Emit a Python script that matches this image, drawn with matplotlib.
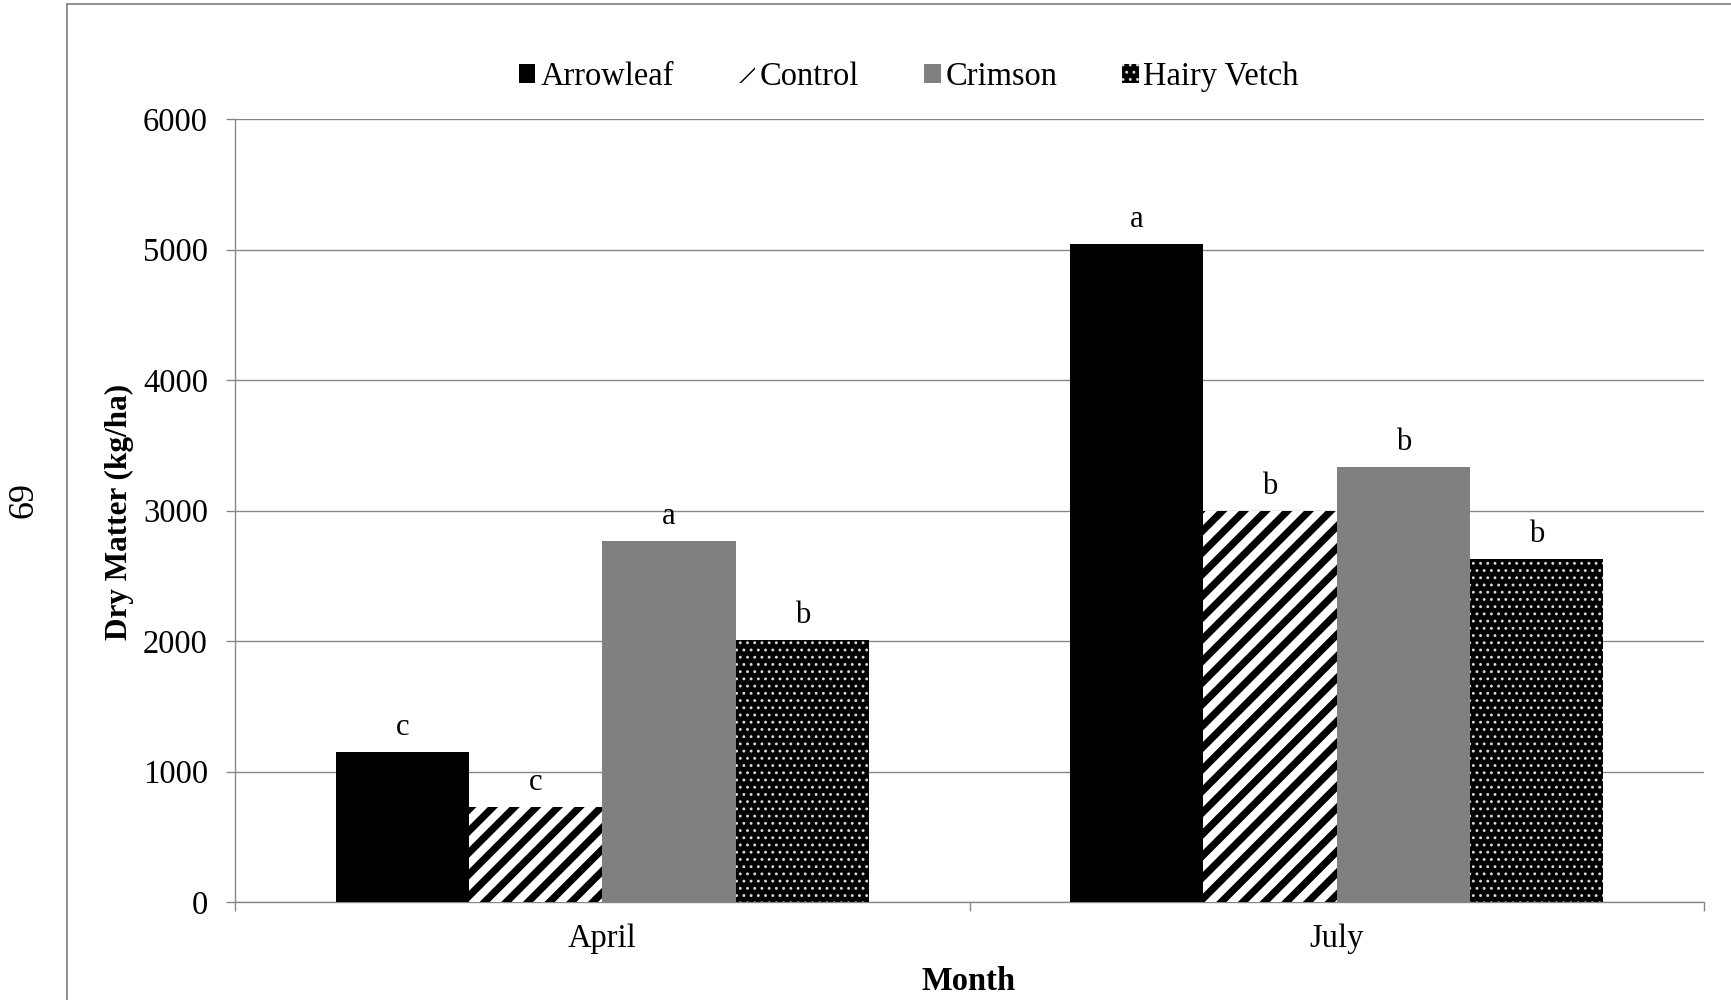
import matplotlib
matplotlib.use("Agg")
import matplotlib.pyplot as plt
from matplotlib.lines import Line2D
import numpy as np

# ---- data ----
months = ["April", "July"]
series = ["Arrowleaf", "Control", "Crimson", "Hairy Vetch"]
arrowleaf = [1150, 5045]
control = [730, 2995]
crimson = [2770, 3335]
hairy_vetch = [2010, 2630]
letters_arrowleaf = ["c", "a"]
letters_control = ["c", "b"]
letters_crimson = ["a", "b"]
letters_hairy_vetch = ["b", "b"]
yticks = [0, 1000, 2000, 3000, 4000, 5000, 6000]

values = [arrowleaf, control, crimson, hairy_vetch]
letters = [letters_arrowleaf, letters_control, letters_crimson, letters_hairy_vetch]

DPI = 130
W, H = 1731, 1000
plt.rcParams['font.family'] = ['Liberation Serif', 'DejaVu Serif']
FS = 18
GRAY = '#868686'

fig = plt.figure(figsize=(W / DPI, H / DPI), dpi=DPI)
ax = fig.add_axes([235 / W, 1 - 902 / H, (1704 - 235) / W, (902 - 119) / H])

styles = [
    dict(facecolor='black', edgecolor='black', linewidth=0, hatch=None, hlw=1.0),
    dict(facecolor='white', edgecolor='black', linewidth=0, hatch='//', hlw=4.0),
    dict(facecolor='#808080', edgecolor='#808080', linewidth=0, hatch=None, hlw=1.0),
    dict(facecolor='black', edgecolor='#d8d8d8', linewidth=0, hatch='...', hlw=0.8),
]

x = np.arange(len(months))
w = 0.1815
handles = []
for i, (name, vals, lets, st) in enumerate(zip(series, values, letters, styles)):
    plt.rcParams['hatch.linewidth'] = st['hlw']
    bars = ax.bar(x + (i - 1.5) * w, vals, width=w, facecolor=st['facecolor'],
                  edgecolor=st['edgecolor'], linewidth=st['linewidth'],
                  hatch=st['hatch'], label=name, zorder=3)
    for b in bars:
        if hasattr(b, 'set_hatch_linewidth'):
            b.set_hatch_linewidth(st['hlw'])
    for xi, v, l in zip(x + (i - 1.5) * w, vals, lets):
        ax.annotate(l, (xi, v), xytext=(0, 13.5), textcoords='offset points',
                    ha='center', va='center', fontsize=FS - 1)
    handles.append(bars)

ax.set_xlim(-0.5, 1.5)
ax.set_ylim(0, 6000)
ax.set_yticks(yticks)
ax.set_yticklabels([str(t) for t in yticks], fontsize=FS)
ax.yaxis.grid(True, color=GRAY, linewidth=0.75, zorder=0)
ax.set_axisbelow(True)

ax.set_xticks([-0.5, 0.5, 1.5])
ax.set_xticklabels([])
ax.set_xticks(x, minor=True)
ax.set_xticklabels(months, minor=True, fontsize=FS)
ax.tick_params(axis='x', which='major', length=5, width=0.75, color=GRAY, direction='out')
ax.tick_params(axis='x', which='minor', length=0, pad=12)
ax.tick_params(axis='y', length=5, width=0.75, color=GRAY, direction='out', pad=10)

for s in ['top', 'right']:
    ax.spines[s].set_visible(False)
for s in ['left', 'bottom']:
    ax.spines[s].set_color(GRAY)
    ax.spines[s].set_linewidth(0.75)

fig.text(119 / W, 1 - 512 / H, "Dry Matter (kg/ha)", rotation=90, ha='center',
         va='center', fontsize=17.3, fontweight='bold')
fig.text(969 / W, 1 - 981 / H, "Month", ha='center', va='center',
         fontsize=FS, fontweight='bold')
fig.text(24 / W, 1 - 500 / H, "69", rotation=90, ha='center', va='center', fontsize=20)

leg = fig.legend(handles=handles, labels=series, loc='center', ncol=4,
                 bbox_to_anchor=(909 / W, 1 - 77 / H), frameon=False,
                 fontsize=FS, handlelength=0.5, handleheight=0.5,
                 handletextpad=0.15, columnspacing=2.0)

# outer chart frame (page crop)
fig.add_artist(Line2D([67 / W, 67 / W], [0, 1 - 3.5 / H], color='#888888', linewidth=1.0))
fig.add_artist(Line2D([67 / W, 1], [1 - 3.5 / H, 1 - 3.5 / H], color='#888888', linewidth=1.0))

fig.savefig("out.png", dpi=DPI)
